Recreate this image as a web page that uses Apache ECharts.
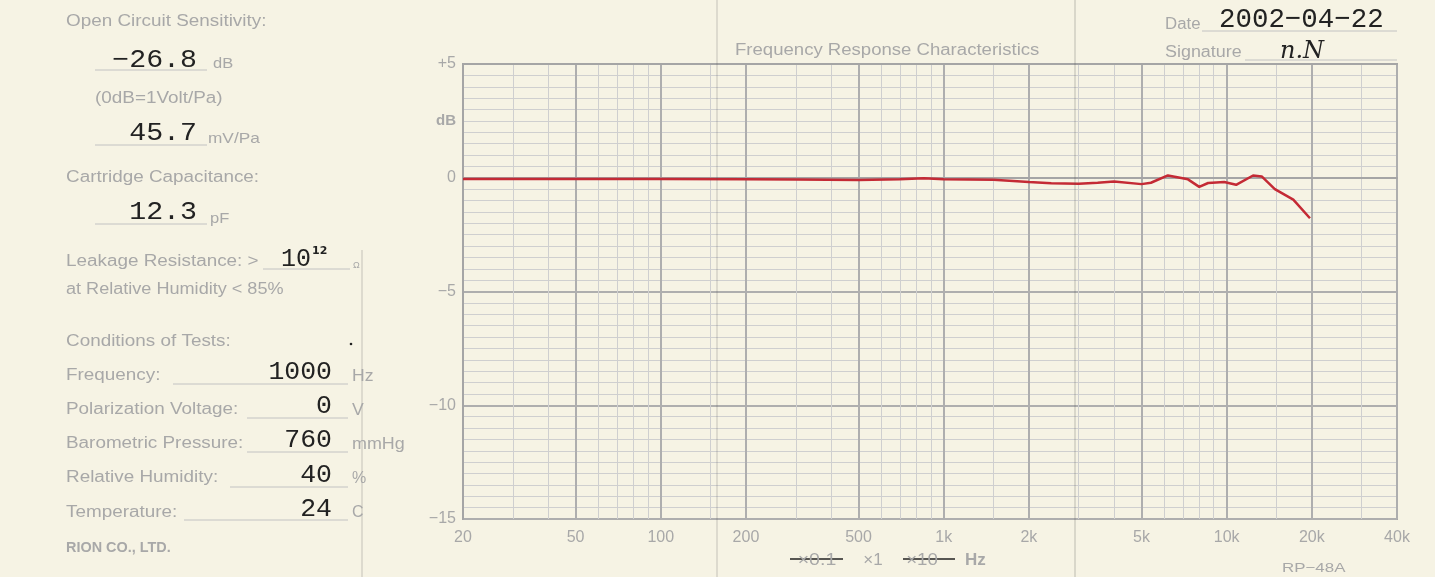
<!DOCTYPE html>
<html>
<head>
<meta charset="utf-8">
<script src="https://cdn.jsdelivr.net/npm/echarts@6/dist/echarts.min.js"></script>
<style>
html,body{margin:0;padding:0;background:#f6f3e4;}
#c{width:1435px;height:577px;}
</style>
</head>
<body>
<div id="c"></div>
<script>
// ---- data ----
const freqHz = [20, 50, 100, 200, 300, 500, 700, 850, 1000, 1500, 2000, 2400, 3000, 3500, 4000, 5000, 5400, 6200, 7300, 8000, 8600, 9800, 10800, 12400, 13300, 14800, 17200, 19700];
const responseDb = [-0.05, -0.05, -0.06, -0.07, -0.08, -0.1, -0.07, -0.02, -0.07, -0.09, -0.19, -0.24, -0.26, -0.22, -0.16, -0.28, -0.22, 0.1, -0.07, -0.4, -0.23, -0.19, -0.31, 0.1, 0.06, -0.5, -0.96, -1.78];

const xMajorTicks = [20, 50, 100, 200, 500, 1000, 2000, 5000, 10000, 20000, 40000];
const xMinorTicks = [30, 40, 60, 70, 80, 90, 150, 300, 400, 600, 700, 800, 900, 1500, 3000, 4000, 6000, 7000, 8000, 9000, 15000, 30000];
const yLabelValues = [-15, -10, -5, 0, 2.5, 5];
const yLabelTexts = ['\u221215', '\u221210', '\u22125', '0', 'dB', '+5'];

const GRAY = '#a8a8a8';
const INK = '#222222';
const LF = '"Liberation Sans", Arial, sans-serif';
const MONO = '"Liberation Mono", "DejaVu Sans Mono", monospace';

const G = [];
function txt(text, x, y, o) {
  o = o || {};
  G.push({type: 'text', x: x, y: y, scaleX: o.sx || 1, z: 10, silent: true,
    style: {text: text, font: o.font || ('16px ' + LF), fill: o.fill || GRAY,
      align: o.align || 'left', verticalAlign: 'middle'}});
}
function ln(x1, y1, x2, y2, stroke, w) {
  G.push({type: 'line', z: 9, silent: true, shape: {x1: x1, y1: y1, x2: x2, y2: y2},
    style: {stroke: stroke, lineWidth: w}});
}

// paper folds
ln(717, 0, 717, 577, 'rgba(80,80,80,0.3)', 1);
ln(1075, 0, 1075, 577, 'rgba(80,80,80,0.35)', 1);
ln(362, 250, 362, 577, 'rgba(80,80,80,0.3)', 1);

// left panel printed labels
const S = 1.18;
txt('Open Circuit Sensitivity:', 66, 22, {sx: S});
txt('(0dB=1Volt/Pa)', 95, 99, {sx: S});
txt('Cartridge Capacitance:', 66, 178, {sx: S});
txt('Leakage Resistance: >', 66, 262, {sx: S});
txt('at Relative Humidity < 85%', 66, 290, {sx: 1.13});
txt('Conditions of Tests:', 66, 342, {sx: S});
txt('Frequency:', 66, 376, {sx: S});
txt('Polarization Voltage:', 66, 410, {sx: S});
txt('Barometric Pressure:', 66, 444, {sx: S});
txt('Relative Humidity:', 66, 478, {sx: S});
txt('Temperature:', 66, 513, {sx: S});
txt('RION CO., LTD.', 66, 548, {font: 'bold 14px ' + LF, sx: 1.03});

// units
txt('dB', 213, 64, {font: '15px ' + LF, sx: 1.1});
txt('mV/Pa', 208, 139, {font: '15px ' + LF, sx: 1.15});
txt('pF', 210, 219, {font: '15px ' + LF, sx: 1.1});
txt('\u03A9', 353, 266, {font: '9px ' + LF});
txt('Hz', 352, 377, {sx: 1.1});
txt('V', 352, 411, {sx: 1.1});
txt('mmHg', 352, 445, {sx: 1.12});
txt('%', 352, 479, {sx: 1.0});
txt('C', 352, 513, {sx: 1.0});

// underlines
const UL = '#c2c2c2';
ln(95, 70, 207, 70, UL, 1);
ln(95, 145, 207, 145, UL, 1);
ln(95, 224, 207, 224, UL, 1);
ln(263, 269, 350, 269, UL, 1);
ln(173, 384, 348, 384, UL, 1);
ln(247, 418, 348, 418, UL, 1);
ln(247, 452, 348, 452, UL, 1);
ln(230, 487, 348, 487, UL, 1);
ln(184, 520, 348, 520, UL, 1);
ln(1202, 31, 1397, 31, UL, 1);
ln(1245, 60, 1397, 60, UL, 1);

// typed values
const NF = '25px ' + MONO;
txt('\u221226.8', 197, 60, {font: NF, fill: INK, align: 'right', sx: 1.13});
txt('45.7', 197, 133, {font: NF, fill: INK, align: 'right', sx: 1.13});
txt('12.3', 197, 212, {font: NF, fill: INK, align: 'right', sx: 1.13});
txt('10', 281, 259, {font: NF, fill: INK, sx: 1.0});
txt('12', 312, 251, {font: 'bold 11px "DejaVu Sans", sans-serif', fill: INK});
txt('1000', 332, 372, {font: NF, fill: INK, align: 'right', sx: 1.06});
txt('0', 332, 406, {font: NF, fill: INK, align: 'right', sx: 1.06});
txt('760', 332, 440, {font: NF, fill: INK, align: 'right', sx: 1.06});
txt('40', 332, 475, {font: NF, fill: INK, align: 'right', sx: 1.06});
txt('24', 332, 509, {font: NF, fill: INK, align: 'right', sx: 1.06});
G.push({type: 'circle', z: 10, silent: true, shape: {cx: 351, cy: 344, r: 1.3}, style: {fill: INK}});

// chart header
txt('Frequency Response Characteristics', 735, 51, {sx: 1.16});
txt('Date', 1165, 25, {sx: 1.05});
txt('2002\u221204\u221222', 1219, 20, {font: '28px ' + MONO, fill: INK, sx: 0.98});
txt('Signature', 1165, 53, {sx: 1.12});
txt('n.N', 1280, 52, {font: 'italic 24px "DejaVu Serif", serif', fill: INK});

// footer
txt('\u00D70.1', 817, 560, {font: '17px ' + LF, align: 'center', sx: 1.15});
txt('\u00D71', 873, 560, {font: '17px ' + LF, align: 'center'});
txt('\u00D710', 922, 560, {font: '17px ' + LF, align: 'center', sx: 1.1});
txt('Hz', 965, 560, {font: 'bold 17px ' + LF});
ln(790, 559, 843, 559, '#222', 1.5);
ln(903, 559, 955, 559, '#222', 1.5);
txt('RP\u221248A', 1282, 568, {font: '13px ' + LF, sx: 1.3});

const chart = echarts.init(document.getElementById('c'), null, {renderer: 'canvas'});
chart.setOption({
  animation: false,
  backgroundColor: 'transparent',
  grid: {left: 463, right: 38, top: 64, bottom: 58, show: true, borderColor: '#a5a5a5', borderWidth: 2, backgroundColor: 'transparent'},
  xAxis: [{
    type: 'log', logBase: 10, min: 20, max: 40000,
    axisLine: {show: true, lineStyle: {color: '#a5a5a5', width: 2}},
    axisTick: {show: false, customValues: xMajorTicks},
    splitLine: {show: true, lineStyle: {color: '#aeaeae', width: 2}},
    minorTick: {show: false}, minorSplitLine: {show: false},
    axisLabel: {customValues: xMajorTicks, color: GRAY, fontSize: 16, fontFamily: 'Liberation Sans', margin: 11,
      formatter: function (v) { return v >= 1000 ? (v / 1000) + 'k' : String(v); }}
  }, {
    type: 'log', logBase: 10, min: 20, max: 40000, position: 'top',
    axisLine: {show: true, lineStyle: {color: '#a5a5a5', width: 2}},
    axisTick: {show: false, customValues: xMinorTicks},
    axisLabel: {show: false},
    splitLine: {show: true, lineStyle: {color: '#cfcfcf', width: 1}}
  }],
  yAxis: {
    type: 'value', min: -15, max: 5, interval: 5,
    axisLine: {show: true, lineStyle: {color: '#a5a5a5', width: 2}},
    axisTick: {show: false},
    splitLine: {show: true, lineStyle: {color: '#aeaeae', width: 2}},
    minorTick: {show: false, splitNumber: 10},
    minorSplitLine: {show: true, lineStyle: {color: '#cfcfcf', width: 1}},
    axisLabel: {customValues: yLabelValues, color: GRAY, fontSize: 16, fontFamily: 'Liberation Sans', margin: 7,
      formatter: function (v) {
        const i = yLabelValues.indexOf(v);
        const t = i >= 0 ? yLabelTexts[i] : '';
        return t === 'dB' ? '{b|dB}' : t;
      },
      rich: {b: {fontWeight: 'bold', color: GRAY, fontSize: 15, fontFamily: 'Liberation Sans'}}}
  },
  series: [{
    type: 'line', xAxisIndex: 0, yAxisIndex: 0, silent: true, z: 5,
    showSymbol: false, symbol: 'none',
    lineStyle: {color: '#c42a35', width: 2.5},
    data: freqHz.map(function (f, i) { return [f, responseDb[i]]; })
  }],
  graphic: {elements: G}
});
</script>
</body>
</html>
